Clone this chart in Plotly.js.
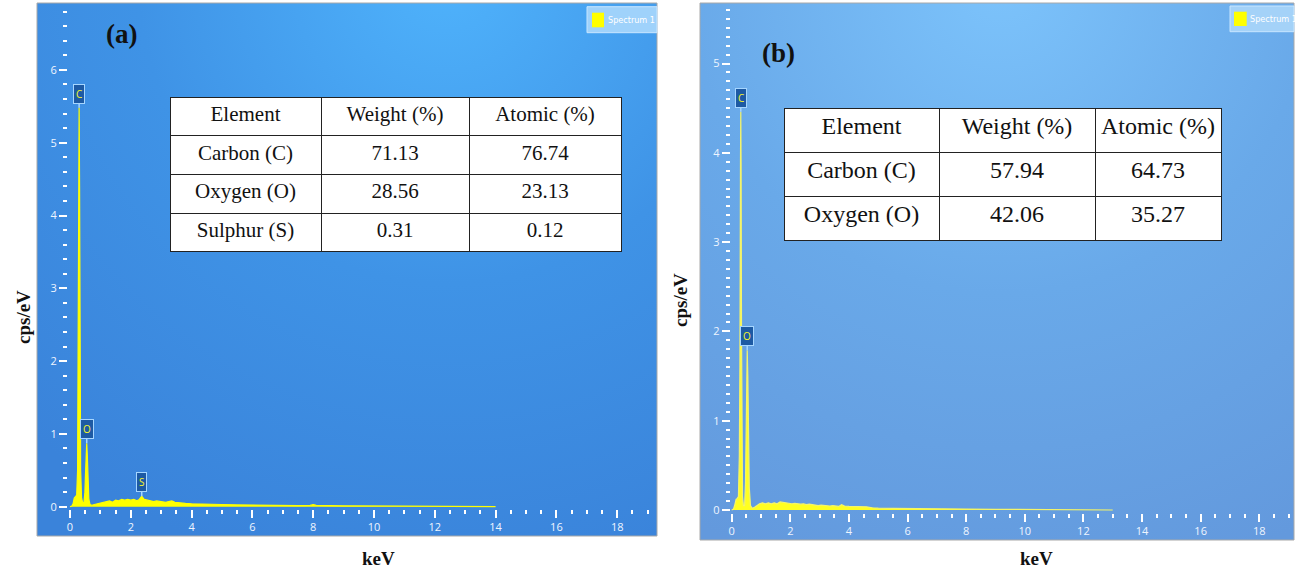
<!DOCTYPE html>
<html>
<head>
<meta charset="utf-8">
<script src="https://cdn.plot.ly/plotly-3.0.1.min.js"></script>
<style>
html,body{margin:0;padding:0;background:#fff;}
#chart{width:1296px;height:573px;}
</style>
</head>
<body>
<div id="chart"></div>
<script>
// ---------- DATA ----------
// Panel (a) spectrum (keV, cps/eV)
const energyA = [0.00,0.06,0.10,0.14,0.18,0.22,0.25,0.27,0.285,0.30,0.315,0.33,0.35,0.38,0.42,0.46,0.49,0.51,0.53,0.55,
  0.57,0.59,0.62,0.66,0.72,0.80,0.90,1.00,1.10,1.20,1.30,1.40,1.50,1.60,1.70,1.80,1.90,2.00,2.10,2.20,
  2.28,2.36,2.44,2.55,2.65,2.75,2.85,2.95,3.05,3.15,3.25,3.35,3.45,3.60,3.80,4.00,4.25,4.50,4.75,5.00,
  5.50,6.00,6.50,7.00,7.50,7.90,8.00,8.10,8.50,9.00,9.50,10.0,11.0,12.0,13.0,14.0];
const cpsA = [0.00,0.01,0.04,0.12,0.14,0.16,0.50,2.20,4.60,5.48,4.40,1.90,0.50,0.12,0.05,0.06,0.20,0.45,0.78,0.87,
  0.70,0.35,0.10,0.03,0.02,0.03,0.04,0.05,0.06,0.07,0.08,0.06,0.09,0.08,0.10,0.09,0.10,0.09,0.10,0.08,
  0.10,0.145,0.10,0.09,0.08,0.07,0.08,0.07,0.07,0.06,0.07,0.08,0.06,0.05,0.045,0.04,0.035,0.03,0.035,0.03,
  0.025,0.02,0.02,0.015,0.015,0.018,0.03,0.018,0.012,0.012,0.01,0.01,0.008,0.007,0.005,0.00];
// Panel (b) spectrum
const energyB = [0.00,0.06,0.10,0.15,0.19,0.23,0.26,0.28,0.30,0.31,0.32,0.335,0.35,0.37,0.40,0.44,0.47,0.49,0.51,0.53,
  0.55,0.57,0.60,0.64,0.70,0.78,0.86,0.95,1.05,1.15,1.25,1.35,1.45,1.55,1.65,1.75,1.85,1.95,2.05,2.15,
  2.25,2.35,2.45,2.55,2.65,2.75,2.85,2.95,3.05,3.15,3.25,3.35,3.45,3.55,3.65,3.75,3.85,4.00,4.20,4.40,
  4.60,4.80,5.00,5.50,6.00,6.50,7.00,7.50,8.00,9.00,10.0,11.0,12.0,13.0];
const cpsB = [0.00,0.01,0.05,0.12,0.13,0.15,0.60,1.60,3.90,4.46,3.90,2.00,0.70,0.15,0.05,0.05,0.30,0.90,1.50,1.79,
  1.50,0.80,0.25,0.05,0.02,0.03,0.05,0.07,0.08,0.07,0.08,0.07,0.08,0.07,0.09,0.085,0.08,0.075,0.07,0.075,
  0.07,0.065,0.07,0.06,0.065,0.06,0.055,0.05,0.055,0.05,0.05,0.045,0.05,0.045,0.04,0.06,0.045,0.04,0.04,0.035,
  0.035,0.025,0.02,0.018,0.018,0.015,0.013,0.012,0.01,0.008,0.007,0.006,0.004,0.00];

// Peak labels
const peakLabelsA = ['C','O','S'];
const peakEnergyA = [0.30,0.55,2.36];
const peakCpsA = [5.48,0.87,0.145];
const peakLabelsB = ['C','O'];
const peakEnergyB = [0.31,0.53];
const peakCpsB = [4.46,1.79];

// Tables
const tableHeader = ['Element','Weight (%)','Atomic (%)'];
const elementsA = ['Carbon (C)','Oxygen (O)','Sulphur (S)'];
const weightA = ['71.13','28.56','0.31'];
const atomicA = ['76.74','23.13','0.12'];
const elementsB = ['Carbon (C)','Oxygen (O)'];
const weightB = ['57.94','42.06'];
const atomicB = ['64.73','35.27'];

const panelTags = ['(a)','(b)'];
const xTitle = 'keV';
const yTitle = 'cps/eV';
const legendText = 'Spectrum 1';

// ---------- LAYOUT HELPERS ----------
const W = 1296, H = 573;
const px = v => v / W;
const py = v => 1 - v / H;
const nb = arr => arr.map(s => s.replace(/ /g, '\u00a0'));

function gradSvg(w, h, cx, cy, r, c0, c1, c2) {
  const s = `<svg xmlns="http://www.w3.org/2000/svg" width="${w}" height="${h}" viewBox="0 0 ${w} ${h}" preserveAspectRatio="none"><defs><radialGradient id="g" gradientUnits="userSpaceOnUse" cx="${cx}" cy="${cy}" r="${r}"><stop offset="0" stop-color="${c0}"/><stop offset="0.5" stop-color="${c1}"/><stop offset="1" stop-color="${c2}"/></radialGradient></defs><rect width="${w}" height="${h}" fill="url(#g)"/></svg>`;
  return 'data:image/svg+xml;charset=utf-8,' + encodeURIComponent(s);
}

// frames (pixels)
const fA = {x0:37, x1:657, y0:3, y1:536};
const fB = {x0:700, x1:1294, y0:3, y1:540};

const tickFont = {family:'Open Sans, DejaVu Sans, sans-serif', size:11, color:'#eef5ff'};

const commonAx = {
  showgrid:false, zeroline:false, showline:false,
  ticks:'outside', tickcolor:'#ffffff', tickwidth:2, ticklen:8,
  tickfont: tickFont, fixedrange:true
};

const serifFam = 'Liberation Serif, Times New Roman, serif';

// ---------- TRACES ----------
const traces = [
  {type:'scatter', mode:'lines', x:energyA, y:cpsA, xaxis:'x', yaxis:'y',
   fill:'tozeroy', fillcolor:'#ffff00', line:{color:'#ffff00', width:1.2}, hoverinfo:'skip', showlegend:false},
  {type:'scatter', mode:'lines', x:energyB, y:cpsB, xaxis:'x2', yaxis:'y2',
   fill:'tozeroy', fillcolor:'#ffff20', line:{color:'#f4f46a', width:1.2}, hoverinfo:'skip', showlegend:false},
  {type:'table', domain:{x:[px(170), px(621)], y:[py(270), py(97.3)]},
   columnwidth:[151,148,152],
   header:{values:nb(tableHeader), height:38.6, align:'center', fill:{color:'#ffffff'},
     line:{color:'#222', width:1}, font:{family:serifFam, size:21, color:'#111'}},
   cells:{values:[nb(elementsA), weightA, atomicA], height:38.6, align:'center', fill:{color:'#ffffff'},
     line:{color:'#222', width:1}, font:{family:serifFam, size:21, color:'#111'}}},
  {type:'table', domain:{x:[px(784), px(1221)], y:[py(265), py(108.3)]},
   columnwidth:[155,156,126],
   header:{values:nb(tableHeader), height:44, align:'center', fill:{color:'#ffffff'},
     line:{color:'#222', width:1}, font:{family:serifFam, size:24, color:'#111'}},
   cells:{values:[nb(elementsB), weightB, atomicB], height:44, align:'center', fill:{color:'#ffffff'},
     line:{color:'#222', width:1}, font:{family:serifFam, size:24, color:'#111'}}}
];

const xA0 = 68, xA1 = 657, yAb = 509, yAt = 3;
const xB0 = 730.7, xB1 = 1294, yBb = 512.7, yBt = 3;

const layout = {
  width:W, height:H,
  margin:{l:0, r:0, t:0, b:0, pad:0, autoexpand:false},
  paper_bgcolor:'#ffffff', plot_bgcolor:'rgba(0,0,0,0)',
  showlegend:false,
  xaxis: Object.assign({}, commonAx, {
    domain:[px(xA0), px(xA1)], anchor:'y',
    range:[(xA0-70)/30.4, (xA1-70)/30.4], tick0:0, dtick:2,
    minor:{dtick:0.5, tick0:0, ticks:'outside', ticklen:4, tickwidth:2, tickcolor:'#ffffff', showgrid:false}
  }),
  yaxis: Object.assign({}, commonAx, {
    domain:[py(yAb), py(yAt)], anchor:'x',
    range:[-(yAb-506.7)/72.8, (506.7-yAt)/72.8], tick0:0, dtick:1,
    minor:{dtick:0.2, tick0:0, ticks:'outside', ticklen:4, tickwidth:2, tickcolor:'#ffffff', showgrid:false}
  }),
  xaxis2: Object.assign({}, commonAx, {
    domain:[px(xB0), px(xB1)], anchor:'y2',
    range:[(xB0-731.7)/29.31, (xB1-731.7)/29.31], tick0:0, dtick:2,
    minor:{dtick:0.5, tick0:0, ticks:'outside', ticklen:4, tickwidth:2, tickcolor:'#ffffff', showgrid:false}
  }),
  yaxis2: Object.assign({}, commonAx, {
    domain:[py(yBb), py(yBt)], anchor:'x2',
    range:[-(yBb-510)/89.3, (510-yBt)/89.3], tick0:0, dtick:1,
    minor:{dtick:0.1, tick0:0, ticks:'outside', ticklen:4, tickwidth:2, tickcolor:'#ffffff', showgrid:false}
  }),
  images:[
    {source: gradSvg(620, 533, 410, -30, 620, '#4fb3fc', '#3f93e6', '#3a83da'),
     xref:'paper', yref:'paper', x:px(fA.x0), y:py(fA.y0), sizex:(fA.x1-fA.x0)/W, sizey:(fA.y1-fA.y0)/H,
     xanchor:'left', yanchor:'top', sizing:'stretch', layer:'below'},
    {source: gradSvg(594, 537, 300, -20, 620, '#7cc3fb', '#69a9e9', '#6399dd'),
     xref:'paper', yref:'paper', x:px(fB.x0), y:py(fB.y0), sizex:(fB.x1-fB.x0)/W, sizey:(fB.y1-fB.y0)/H,
     xanchor:'left', yanchor:'top', sizing:'stretch', layer:'below'}
  ],
  shapes:[
    {type:'rect', xref:'paper', yref:'paper', x0:px(fA.x0), x1:px(fA.x1), y0:py(fA.y1), y1:py(fA.y0),
     line:{color:'#a8a8a8', width:1}, fillcolor:'rgba(0,0,0,0)', layer:'below'},
    {type:'rect', xref:'paper', yref:'paper', x0:px(fB.x0), x1:px(fB.x1), y0:py(fB.y1), y1:py(fB.y0),
     line:{color:'#a8a8a8', width:1}, fillcolor:'rgba(0,0,0,0)', layer:'below'},
    {type:'rect', xref:'paper', yref:'paper', x0:px(587), x1:px(657), y0:py(32.7), y1:py(6.7),
     line:{color:'#c8e6ff', width:1}, fillcolor:'#9fd2fb', layer:'above'},
    {type:'rect', xref:'paper', yref:'paper', x0:px(592), x1:px(604), y0:py(27.3), y1:py(12.7),
     line:{width:0}, fillcolor:'#ffff00', layer:'above'},
    {type:'rect', xref:'paper', yref:'paper', x0:px(1230), x1:px(1294), y0:py(31.7), y1:py(6),
     line:{color:'#c8e6ff', width:1}, fillcolor:'#a4d2f8', layer:'above'},
    {type:'rect', xref:'paper', yref:'paper', x0:px(1234), x1:px(1246.7), y0:py(26), y1:py(11.7),
     line:{width:0}, fillcolor:'#ffff00', layer:'above'}
  ],
  annotations:[]
};

const ann = layout.annotations;
function addPeaks(labels, xs, ys, xr, yr) {
  for (let i = 0; i < labels.length; i++) {
    ann.push({x:xs[i], y:ys[i], xref:xr, yref:yr, text:labels[i],
      showarrow:true, arrowhead:0, arrowwidth:1.5, arrowcolor:'#a6d6ff', ax:0, ay:-14,
      font:{family:'Open Sans, DejaVu Sans, sans-serif', size:10, color:'#f6f62a'},
      bgcolor:'#1d5aa4', bordercolor:'#a6d6ff', borderwidth:1, borderpad:2});
  }
}
addPeaks(peakLabelsA, peakEnergyA, peakCpsA, 'x', 'y');
addPeaks(peakLabelsB, peakEnergyB, peakCpsB, 'x2', 'y2');

const serifBold = {family:serifFam, color:'#111'};
ann.push({xref:'paper', yref:'paper', x:px(121), y:py(34), text:'<b>'+panelTags[0]+'</b>', showarrow:false,
  font:Object.assign({}, serifBold, {size:27}), xanchor:'center', yanchor:'middle'});
ann.push({xref:'paper', yref:'paper', x:px(778), y:py(53), text:'<b>'+panelTags[1]+'</b>', showarrow:false,
  font:Object.assign({}, serifBold, {size:27}), xanchor:'center', yanchor:'middle'});
ann.push({xref:'paper', yref:'paper', x:px(378), y:py(558), text:'<b>'+xTitle+'</b>', showarrow:false,
  font:Object.assign({}, serifBold, {size:19}), xanchor:'center', yanchor:'middle'});
ann.push({xref:'paper', yref:'paper', x:px(1036), y:py(558), text:'<b>'+xTitle+'</b>', showarrow:false,
  font:Object.assign({}, serifBold, {size:19}), xanchor:'center', yanchor:'middle'});
ann.push({xref:'paper', yref:'paper', x:px(23), y:py(317), text:'<b>'+yTitle+'</b>', showarrow:false, textangle:-90,
  font:Object.assign({}, serifBold, {size:19}), xanchor:'center', yanchor:'middle'});
ann.push({xref:'paper', yref:'paper', x:px(680), y:py(300), text:'<b>'+yTitle+'</b>', showarrow:false, textangle:-90,
  font:Object.assign({}, serifBold, {size:19}), xanchor:'center', yanchor:'middle'});
ann.push({xref:'paper', yref:'paper', x:px(606), y:py(20), text:legendText, showarrow:false,
  xanchor:'left', yanchor:'middle', align:'left', width:50,
  font:{family:'DejaVu Sans Condensed, Open Sans, sans-serif', size:9, color:'#ffffff'}});
ann.push({xref:'paper', yref:'paper', x:px(1248), y:py(19), text:legendText, showarrow:false,
  xanchor:'left', yanchor:'middle', align:'left', width:45,
  font:{family:'DejaVu Sans Condensed, Open Sans, sans-serif', size:9, color:'#ffffff'}});

Plotly.newPlot('chart', traces, layout, {displayModeBar:false, staticPlot:true});
</script>
</body>
</html>
